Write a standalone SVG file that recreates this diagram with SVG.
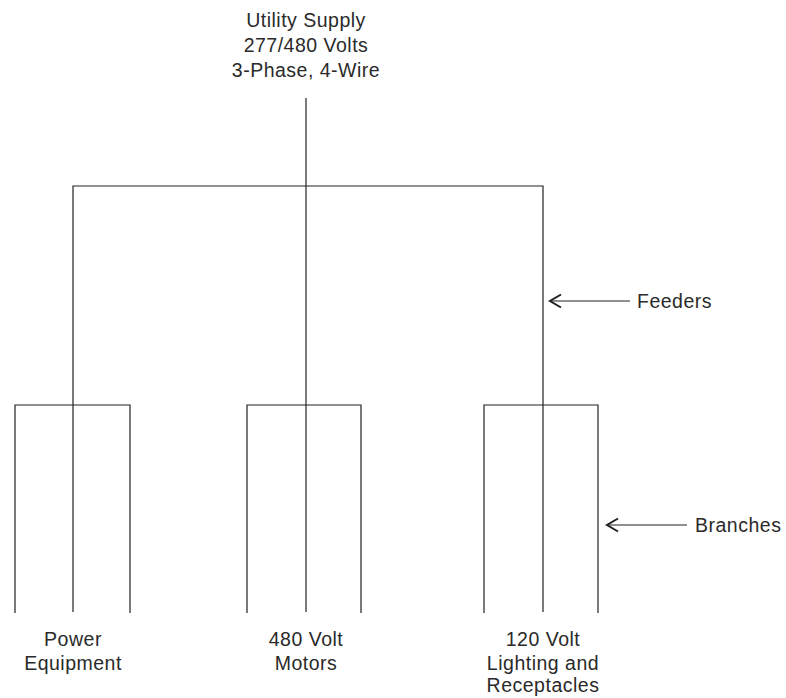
<svg xmlns="http://www.w3.org/2000/svg" width="786" height="698" viewBox="0 0 786 698">
<defs>
<style>
.t{font-family:"Liberation Sans",Arial,sans-serif;font-size:19.5px;letter-spacing:0.5px;fill:#2a2a2a;text-anchor:middle}
.tl{font-family:"Liberation Sans",Arial,sans-serif;font-size:19.5px;letter-spacing:0.5px;fill:#2a2a2a;text-anchor:start}
.w{stroke:#222;stroke-width:1.2;fill:none}
</style>
<marker id="ah" markerWidth="14" markerHeight="16" refX="12" refY="8" orient="auto" markerUnits="userSpaceOnUse">
<path d="M1,1.5 L12,8 L1,14.5" fill="none" stroke="#222" stroke-width="2"/>
</marker>
</defs>
<rect width="786" height="698" fill="#fff"/>
<g id="supply">
<text class="t" x="306" y="27">Utility Supply</text>
<text class="t" x="306" y="52">277/480 Volts</text>
<text class="t" x="306" y="77">3-Phase, 4-Wire</text>
</g>
<g id="connectors">
<line class="w" x1="306" y1="98" x2="306" y2="612"/>
<polyline class="w" points="73,612 73,186 543,186 543,612"/>
<polyline class="w" points="15,613 15,405 130,405 130,613"/>
<polyline class="w" points="247,613 247,405 361,405 361,613"/>
<polyline class="w" points="484,613 484,405 598,405 598,613"/>
<line class="w" x1="630" y1="301" x2="550" y2="301" marker-end="url(#ah)"/>
<line class="w" x1="687" y1="525" x2="607" y2="525" marker-end="url(#ah)"/>
</g>
<g id="feeders-label"><text class="tl" x="637" y="308">Feeders</text></g>
<g id="branches-label"><text class="tl" x="695" y="532">Branches</text></g>
<g id="power">
<text class="t" x="73" y="646">Power</text>
<text class="t" x="73" y="670">Equipment</text>
</g>
<g id="motors">
<text class="t" x="306" y="646">480 Volt</text>
<text class="t" x="306" y="670">Motors</text>
</g>
<g id="lighting">
<text class="t" x="543" y="646">120 Volt</text>
<text class="t" x="543" y="670">Lighting and</text>
<text class="t" x="543" y="692">Receptacles</text>
</g>
</svg>
